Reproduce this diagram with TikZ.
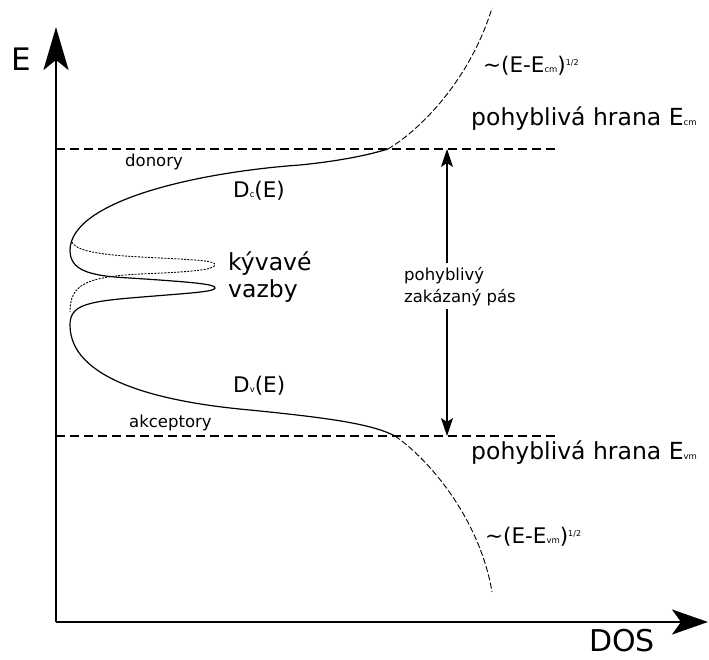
\documentclass[tikz,border=0pt]{standalone}
\usepackage{fontspec}
\setmainfont{DejaVu Sans}
\usetikzlibrary{arrows.meta}
\newcommand\tsub[1]{{\fontsize{8.5}{8.5}\selectfont #1}}
\newcommand\tsup[1]{\raisebox{7pt}{\fontsize{8}{8}\selectfont #1}}
\begin{document}
\begin{tikzpicture}[x=1pt,y=-1pt,
  axis/.style={line width=2.4pt},
  edge/.style={line width=2pt, dash pattern=on 9pt off 5pt},
  dos/.style={line width=1.2pt},
  tail/.style={line width=0.9pt, dash pattern=on 6pt off 2.5pt},
  dots/.style={line width=0.9pt, dash pattern=on 2pt off 1.3pt},
  lbl/.style={anchor=base west, inner sep=0pt},
  big/.style={lbl, font=\fontsize{23.5}{28}\selectfont},
  mid/.style={lbl, font=\fontsize{21.5}{25}\selectfont},
  small/.style={lbl, font=\fontsize{16.5}{22}\selectfont, align=left}]
\useasboundingbox (0,0) rectangle (709,660);
% axes
\coordinate (O) at (56,622);
\coordinate (Etip) at (56,27);
\coordinate (Dtip) at (708,622);
\draw[axis, -{Stealth[length=43pt, width=25pt, inset=10pt]}] (O) -- (Etip);
\draw[axis, -{Stealth[length=36pt, width=25pt, inset=9pt]}] (O) -- (Dtip);
\node[lbl, font=\fontsize{31}{31}\selectfont] (E) at (11,71) {E};
\node[lbl, font=\fontsize{30}{30}\selectfont] (DOS) at (589,651) {DOS};
% mobility edges
\coordinate (c0) at (56,149);
\coordinate (c1) at (557,149);
\coordinate (v0) at (56,436);
\coordinate (v1) at (557,436);
\draw[edge] (c0) -- (c1);
\draw[edge] (v0) -- (v1);
\coordinate (gt) at (447,149);
\coordinate (gb) at (447,436);
\draw[line width=1.1pt, {Stealth[length=18pt, width=12pt, inset=4pt]}-{Stealth[length=18pt, width=12pt, inset=4pt]}] (gt) -- (gb);
% density of states
\coordinate (cm) at (388,149);
\coordinate (vm) at (395,436);
\draw[dos] (cm) .. controls (362,157) and (330,162) .. (300,165)
  .. controls (200,172) and (71,200) .. (70,250)
  .. controls (70,270) and (88,276) .. (130,278)
  .. controls (190,282) and (216,284) .. (215,288)
  .. controls (214,292) and (190,293) .. (130,298)
  .. controls (85,302) and (70,306) .. (70,325)
  .. controls (70,380) and (160,402) .. (250,410)
  .. controls (330,418) and (372,424) .. (vm);
\draw[tail] (cm) .. controls (420,130) and (470,80) .. (492,8);
\draw[tail] (vm) .. controls (430,460) and (480,520) .. (492,592);
\draw[dots] (72,242) .. controls (77,254) and (120,256) .. (160,258)
  .. controls (200,260) and (216,261) .. (215,265)
  .. controls (214,270) and (190,272) .. (140,274)
  .. controls (85,277) and (70,285) .. (70,312);
% labels
\node[big] (ecm) at (471,126) {pohyblivá hrana E\tsub{cm}};
\node[big] (evm) at (471,459) {pohyblivá hrana E\tsub{vm}};
\node[mid] (sqc) at (483,73) {∼(E-E\tsub{cm})\tsup{1/2}};
\node[mid] (sqv) at (485,543) {∼(E-E\tsub{vm})\tsup{1/2}};
\node[small] (don) at (125,167) {donory};
\node[small] (akc) at (129,427) {akceptory};
\node[mid] (dc) at (233,198) {D\tsub{c}(E)};
\node[mid] (dv) at (233,392) {D\tsub{v}(E)};
\node[big, align=left] (kyv) at (228,298) {kývavé\\vazby};
\node[small, fill=white, inner sep=4pt] (gap) at (400,302) {pohyblivý\\zakázaný pás};
\end{tikzpicture}
\end{document}
